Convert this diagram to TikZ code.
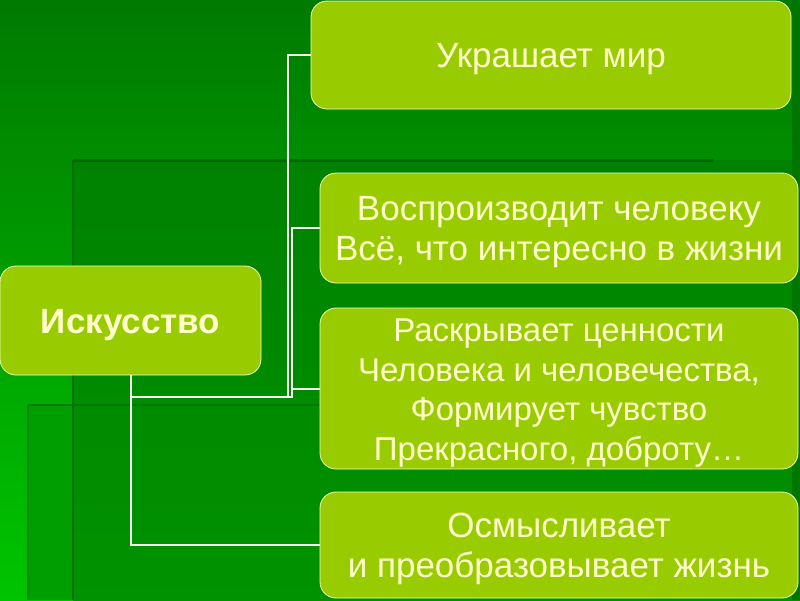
\documentclass[tikz,border=0pt]{standalone}
\usepackage{fontspec}
\setmainfont{Liberation Sans}
\definecolor{boxfill}{HTML}{99CC00}
\definecolor{boxline}{HTML}{EEFFBB}
\definecolor{txt}{HTML}{FFFFCC}
\definecolor{linecol}{HTML}{F2FFEE}
\definecolor{bgtop}{RGB}{0,122,0}
\definecolor{bgbot}{RGB}{0,196,0}
\definecolor{atop}{RGB}{0,130,0}
\definecolor{abot}{RGB}{0,146,0}
\definecolor{bfill}{RGB}{0,158,0}
\definecolor{rstrip}{RGB}{0,118,0}
\definecolor{edgeA}{RGB}{0,104,0}
\definecolor{edgeB}{RGB}{0,112,0}
\definecolor{edgeC}{RGB}{0,120,0}
\definecolor{edgeD}{RGB}{0,136,0}
\newcommand{\lowtext}[1]{\raisebox{-4.5pt}[\height][\depth]{\begin{tabular}{@{}c@{}}#1\end{tabular}}}
\begin{document}
\begin{tikzpicture}[x=1pt,y=-1pt,
  box/.style={draw=boxline,line width=0.8pt,fill=boxfill,rounded corners=16pt,
    text=txt,font=\fontsize{35}{40}\selectfont,inner sep=0pt},
  conn/.style={draw=linecol,line width=2pt}]
\useasboundingbox (0,0) rectangle (800,600);
% background
\shade[top color=bgtop,bottom color=bgbot] (0,0) rectangle (800,600);
\shade[top color=atop,bottom color=abot] (73,160) rectangle (800,600);
\fill[bfill] (28,405) rectangle (73,600);
\fill[rstrip] (792,0) rectangle (800,600);
\draw[edgeA,line width=3pt] (73,160) -- (713,160);
\draw[edgeB,line width=2pt] (73,160) -- (73,600);
\draw[edgeC,line width=2pt] (28,405) -- (330,405);
\draw[edgeD,line width=2pt] (28,405) -- (28,600);
% nodes
\node[box,minimum width=480pt,minimum height=108pt] (b1) at (551,55) {\lowtext{Украшает мир}};
\node[box,minimum width=478pt,minimum height=110pt] (b2) at (559,228) {\lowtext{Воспроизводит человеку\\Всё, что интересно в жизни}};
\node[box,minimum width=478pt,minimum height=161pt,font=\fontsize{33}{39.5}\selectfont] (b3) at (559,388.5) {\lowtext{Раскрывает ценности\\Человека и человечества,\\Формирует чувство\\Прекрасного, доброту…}};
\node[box,minimum width=478pt,minimum height=106pt] (b4) at (559,545) {\lowtext{Осмысливает\\и преобразовывает жизнь}};
\node[box,minimum width=261pt,minimum height=109pt,font=\fontsize{35}{40}\selectfont\bfseries] (ik) at (130.5,320.5) {\lowtext{Искусство}};
% connectors
\draw[conn] (b1.west) -| (288,397);
\draw[conn] (b2.west) -| (292,397) -| (ik.south);
\draw[conn] (b3.west) -- (292,388.5);
\draw[conn] (b4.west) -| (ik.south);
\end{tikzpicture}
\end{document}
